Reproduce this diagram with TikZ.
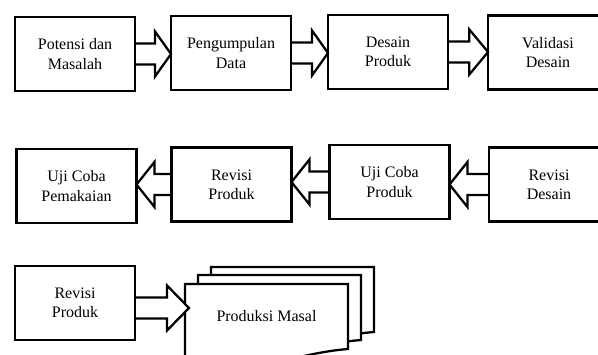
\documentclass[tikz,border=0pt]{standalone}
\usepackage{fontspec}
\setmainfont{Liberation Serif}
\usetikzlibrary{calc}

% hollow block arrow: [style], direction (1 or -1), head length (pt), from, tip
\newcommand{\fatarrow}[5][]{%
  \draw[fat,#1] let \p1=(#4), \p2=(#5), \n1={#2*#3} in
    (\x1,{\y1+7.9pt}) -- ({\x2-\n1*1pt},{\y1+7.9pt}) -- ({\x2-\n1*1pt},{\y1+16.9pt})
    -- (\x2,\y1) -- ({\x2-\n1*1pt},{\y1-16.9pt}) -- ({\x2-\n1*1pt},{\y1-7.9pt})
    -- (\x1,{\y1-7.9pt});
}

\begin{document}
\begin{tikzpicture}[
  x=0.75pt, y=-0.75pt,
  stage/.style={
    draw, line width=1.7pt, outer sep=0pt,
    minimum width=90pt, minimum height=55.5pt,
    align=center, font=\fontsize{12}{14.5}\selectfont
  },
  fat/.style={line width=1.7pt, line join=miter},
  sheet/.style={line width=1.7pt, line join=miter, fill=white}
]
  \useasboundingbox (0,0) rectangle (598,354);
  \foreach \nm/\x/\y/\txt in {
    p1/75/54/{Potensi dan\\Masalah},
    p2/231/53/{Pengumpulan\\Data},
    p3/388/52/{Desain\\Produk},
    p4/548/52.5/{Validasi\\Desain},
    q1/76.5/186/{Uji Coba\\Pemakaian},
    q2/231.5/184.5/{Revisi\\Produk},
    q3/389.5/182/{Uji Coba\\Produk},
    q4/549/184.5/{Revisi\\Desain},
    r1/75/303/{Revisi\\Produk}} {
    \node[stage] (\nm) at (\x,\y) {\txt};
  }
  \node[minimum width=122.25pt, minimum height=48.75pt, outer sep=0pt] (masal) at (266.5,316.5) {};
  \foreach \dx/\dy in {26/-17, 13/-9, 0/0} {
    \path ($(masal.north west)+(\dx,\dy)$) coordinate (nw)
          ($(masal.south east)+(\dx,\dy)$) coordinate (se);
    \draw[sheet] (nw) -- (nw -| se) -- (se)
      .. controls +(-25,2) and +(30,-8) .. ($(se)+(-80,16)$)
      .. controls +(-35,8) and +(25,2) .. ($(nw |- se)+(0,22)$) -- cycle;
  }
  \node[font=\fontsize{12}{14.5}\selectfont] (masaltxt) at (masal) {Produksi Masal};

  \fatarrow{1}{12}{p1.east}{p2.west}
  \fatarrow{1}{12}{p2.east}{p3.west}
  \fatarrow{1}{14}{p3.east}{p4.west}
  \fatarrow{-1}{13.5}{q4.west}{q3.east}
  \fatarrow{-1}{13.5}{q3.west}{q2.east}
  \fatarrow{-1}{13.5}{q2.west}{q1.east}
  \fatarrow[fill=white]{1}{16.5}{$(r1.east)+(1.2,5)$}{$(masal.west)+(4,-8)$}
\end{tikzpicture}
\end{document}
